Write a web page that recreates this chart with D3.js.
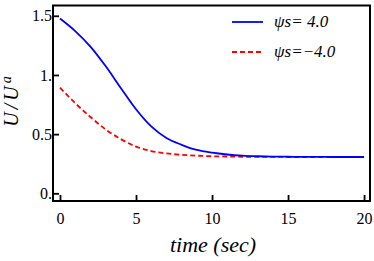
<!DOCTYPE html>
<html><head><meta charset="utf-8">
<script src="https://cdn.jsdelivr.net/npm/d3@7"></script>
</head><body style="margin:0">
<script>
const times = [0,1,2,3,4,5,6,7,8,9,10,11,12,13,14,15,16,17,18,19,20];
const bluePos = [1.477,1.371,1.240,1.075,0.890,0.710,0.565,0.467,0.410,0.366,0.343,0.328,0.318,0.313,0.310,0.309,0.308,0.308,0.307,0.307,0.307];
const redNeg  = [0.893,0.762,0.645,0.540,0.458,0.395,0.357,0.337,0.325,0.318,0.313,0.311,0.309,0.308,0.308,0.307,0.307,0.307,0.307,0.307,0.307];
const xTicks = [0,5,10,15,20];
const xTickLabels = ["0","5","10","15","20"];
const yTicks = [0,0.5,1,1.5];
const yTickLabels = ["0.","0.5","1.","1.5"];
const seriesNames = ["\u03C8s= 4.0","\u03C8s=\u22124.0"];
const fams = ["Liberation Serif","Times New Roman","Tinos"];

const W=374,H=261;
const L=53,R=370,T=5.5,B=201;
const x=d3.scaleLinear().domain([-0.46,20.39]).range([L,R]);
const y=d3.scaleLinear().domain([-0.065,1.587]).range([B,T]);
const svg=d3.select("body").append("svg").attr("width",W).attr("height",H);
const famStr = fams.map(f=>`"${f}"`).join(", ");
function ser(sel){ return sel.attr("font-family",famStr).style("font-family",famStr); }

const line=d3.line().x((d,i)=>x(times[i])).y(d=>y(d)).curve(d3.curveMonotoneX);
svg.append("path").attr("d",line(redNeg)).attr("fill","none").attr("stroke","#ff0000").attr("stroke-width",1.8).attr("stroke-dasharray","5,3");
svg.append("path").attr("d",line(bluePos)).attr("fill","none").attr("stroke","#0000ff").attr("stroke-width",1.8);

svg.append("rect").attr("x",L).attr("y",T).attr("width",R-L).attr("height",B-T).attr("fill","none").attr("stroke","#000").attr("stroke-width",2);

const xa=d3.axisBottom(x).tickValues(xTicks).tickFormat((d,i)=>xTickLabels[i]).tickSizeInner(-6).tickSizeOuter(0).tickPadding(12);
const gx=svg.append("g").attr("transform",`translate(0,${B})`).call(xa);
ser(gx);
gx.select(".domain").remove();
gx.selectAll("line").attr("stroke","#000").attr("stroke-width",1.8);
ser(gx.selectAll("text")).style("font-size","16px").attr("fill","#000");

const ya=d3.axisLeft(y).tickValues(yTicks).tickFormat((d,i)=>yTickLabels[i]).tickSizeInner(-6).tickSizeOuter(0).tickPadding(7);
const gy=svg.append("g").attr("transform",`translate(${L},0)`).call(ya);
ser(gy);
gy.select(".domain").remove();
gy.selectAll("line").attr("stroke","#000").attr("stroke-width",1.8);
ser(gy.selectAll("text")).style("font-size","16px").attr("fill","#000").attr("x",-1);

ser(svg.append("text")).attr("x",213).attr("y",252).attr("text-anchor","middle").style("font-style","italic").style("font-size","22px").text("time (sec)");
const yl=ser(svg.append("text")).attr("transform","translate(18,100) rotate(-90)").attr("text-anchor","middle").style("font-style","italic").style("font-size","20px").style("letter-spacing","3px");
yl.append("tspan").text("U/U");
yl.append("tspan").style("font-size","14px").attr("dy",-7).text("a");

const leg=[{c:"#0000ff",d:null,y:22},{c:"#ff0000",d:"5,3",y:52}];
leg.forEach((l,i)=>{
  svg.append("line").attr("x1",232).attr("x2",263).attr("y1",l.y).attr("y2",l.y).attr("stroke",l.c).attr("stroke-width",1.8).attr("stroke-dasharray",l.d);
  ser(svg.append("text")).attr("x",274).attr("y",l.y+5).style("font-style","italic").style("font-size","17px").text(seriesNames[i]);
});
</script>
</body></html>
